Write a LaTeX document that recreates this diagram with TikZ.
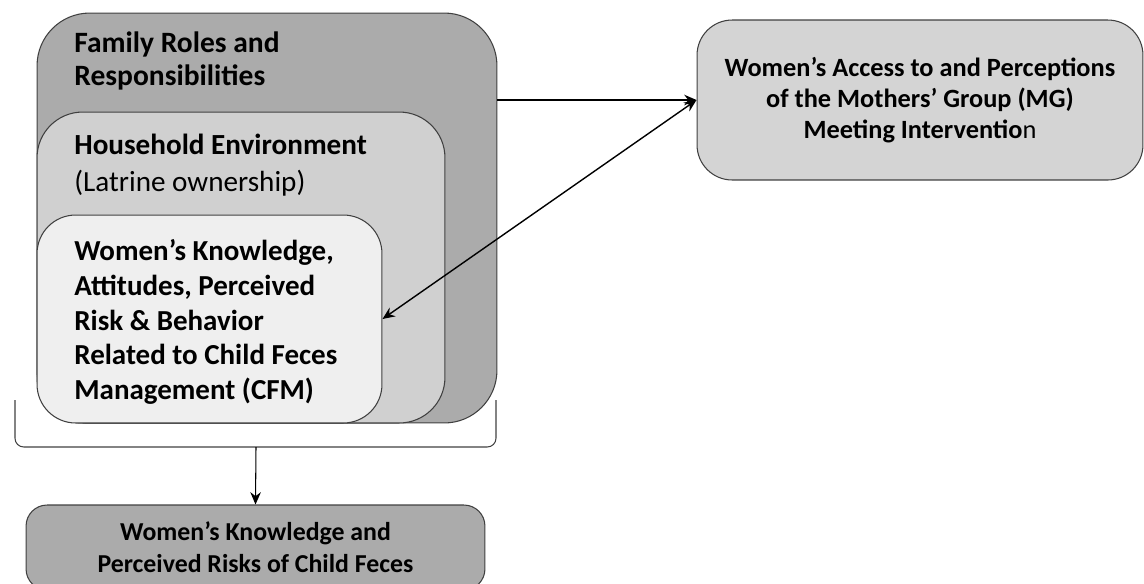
\documentclass[tikz,border=0pt]{standalone}
\usepackage{fontspec}
\setmainfont{Carlito}
\usetikzlibrary{arrows.meta}

\definecolor{boxdark}{HTML}{ABABAB}
\definecolor{boxmid}{HTML}{D0D0D0}
\definecolor{boxlight}{HTML}{EFEFEF}
\definecolor{boxright}{HTML}{D4D4D4}
\definecolor{edge}{HTML}{404040}

\begin{document}
\begin{tikzpicture}[x=0.02cm, y=-0.02cm, >={Stealth[length=7pt,width=6pt]},
  layer/.style={draw=edge, line width=0.6pt, inner sep=0pt},
  label/.style={inner sep=0pt, anchor=north west, align=left, font=\bfseries}]

\useasboundingbox (0,0) rectangle (1144,583);

% Nested boxes (placed manually)
\node[layer, fill=boxdark, rounded corners=30pt, minimum width=9.2cm, minimum height=8.2cm] (FRR) at (267,218) {};
\node[layer, fill=boxmid, rounded corners=26pt, minimum width=8.16cm, minimum height=6.22cm] (HHE) at (241,267.5) {};
\node[layer, fill=boxlight, rounded corners=22pt, minimum width=6.9cm, minimum height=4.16cm] (KAB) at (209.5,319) {};

% Texts of the nested boxes
\node[label, font=\fontsize{16.8}{19.3}\selectfont\bfseries] (FRRtxt) at (74,31) {Family Roles and\\Responsibilities};
\node[label, font=\fontsize{16.6}{20.8}\selectfont] (HHEtxt) at (74,134) {\textbf{Household Environment}\\(Latrine ownership)};
\node[label, font=\fontsize{16.5}{19.8}\selectfont\bfseries] (KABtxt) at (74,239) {Women’s Knowledge,\\Attitudes, Perceived\\Risk \& Behavior\\Related to Child Feces\\Management (CFM)};

% Mothers' Group box
\node[layer, fill=boxright, rounded corners=20pt, minimum width=8.92cm, minimum height=3.2cm,
  align=center, font=\fontsize{15}{17.6}\selectfont\bfseries] (MG) at (920,100)
  {Women’s Access to and Perceptions\\of the Mothers’ Group (MG)\\Meeting Interventio\textmd{n}};

% Outcome box
\node[layer, fill=boxdark, rounded corners=12pt, minimum width=9.18cm, minimum height=1.7cm,
  align=center, font=\fontsize{14.7}{18.2}\selectfont\bfseries] (KPR) at (255.5,547.5)
  {Women’s Knowledge and\\Perceived Risks of Child Feces};

% Bracket under the nested boxes
\coordinate (brL) at (15,400);
\coordinate (brR) at (496,400);
\coordinate (brM) at (256,447);
\draw[edge, line width=0.6pt, rounded corners=5pt] (brL) -- (15,447) -- (496,447) -- (brR);

% Arrows
\draw[->, line width=0.8pt] (FRR.east |- MG.west) -- (MG.west);
\draw[<->, line width=0.8pt] (MG.west) -- (KAB.east);
\draw[->, line width=0.6pt] (brM) -- (KPR.north);

\end{tikzpicture}
\end{document}
